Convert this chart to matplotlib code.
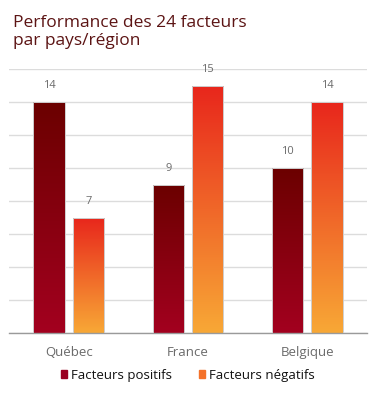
import numpy as np
import matplotlib
matplotlib.use("Agg")
import matplotlib.pyplot as plt
from matplotlib.colors import LinearSegmentedColormap

# data
regions = ["Québec", "France", "Belgique"]
positifs = [14, 9, 10]
negatifs = [7, 15, 14]
series_names = ["Facteurs positifs", "Facteurs négatifs"]

plt.rcParams['font.family'] = ['Open Sans', 'DejaVu Sans']

cmap_pos = LinearSegmentedColormap.from_list("pos", ["#a3001f", "#6b0000"])
cmap_neg = LinearSegmentedColormap.from_list("neg", ["#f8a836", "#e8261c"])

fig = plt.figure(figsize=(3.76, 3.97), dpi=100)
ax = fig.add_axes([0.024, 0.161, 0.952, 0.665])

x = np.arange(len(regions))
w = 0.26
off = 0.165

bars_pos = ax.bar(x - off, positifs, w, facecolor="none", edgecolor="#cfcfcf", lw=0.7, zorder=3)
bars_neg = ax.bar(x + off, negatifs, w, facecolor="none", edgecolor="#cfcfcf", lw=0.7, zorder=3)

# fill every bar with a vertical gradient, clipped to the bar itself
grad = np.linspace(0, 1, 256).reshape(-1, 1)
for bars, cmap in [(bars_pos, cmap_pos), (bars_neg, cmap_neg)]:
    for b in bars:
        x0, y0, bw, bh = b.get_x(), b.get_y(), b.get_width(), b.get_height()
        im = ax.imshow(grad, cmap=cmap, origin="lower", aspect="auto",
                       extent=(x0 - 0.05, x0 + bw + 0.05, y0, y0 + bh),
                       interpolation="bilinear", zorder=2)
        im.set_clip_path(b)
        ax.text(x0 + bw / 2, bh + 0.65, str(int(bh)), ha="center", va="bottom",
                fontsize=8, color="#6a6a6a")

ax.set_xlim(-0.5, 2.5)
ax.set_ylim(0, 16)
ax.set_yticks(np.arange(0, 17, 2))
ax.yaxis.grid(True, color="#dcdcdc", lw=1)
ax.set_axisbelow(True)
ax.tick_params(axis="y", left=False, labelleft=False)
ax.set_xticks(x)
ax.set_xticklabels(regions, fontsize=9.5, color="#6a6a6a")
ax.tick_params(axis="x", length=0, pad=9)
for s in ["top", "right", "left"]:
    ax.spines[s].set_visible(False)
ax.spines["bottom"].set_color("#9a9a9a")
ax.spines["bottom"].set_linewidth(1)

handles = [plt.Rectangle((0, 0), 1, 1, color="#9a0020"),
           plt.Rectangle((0, 0), 1, 1, color="#f4722a")]
fig.legend(handles, series_names, loc="center", bbox_to_anchor=(0.5, 0.055),
           ncol=2, frameon=False, fontsize=9.5, handlelength=0.5, handleheight=0.5,
           handletextpad=0.3, columnspacing=2.0, labelcolor="#111111")

fig.text(0.035, 0.962, "Performance des 24 facteurs\npar pays/région", ha="left", va="top",
         fontsize=12.5, color="#5c1414", linespacing=1.2)

fig.savefig("out.png", dpi=100)
